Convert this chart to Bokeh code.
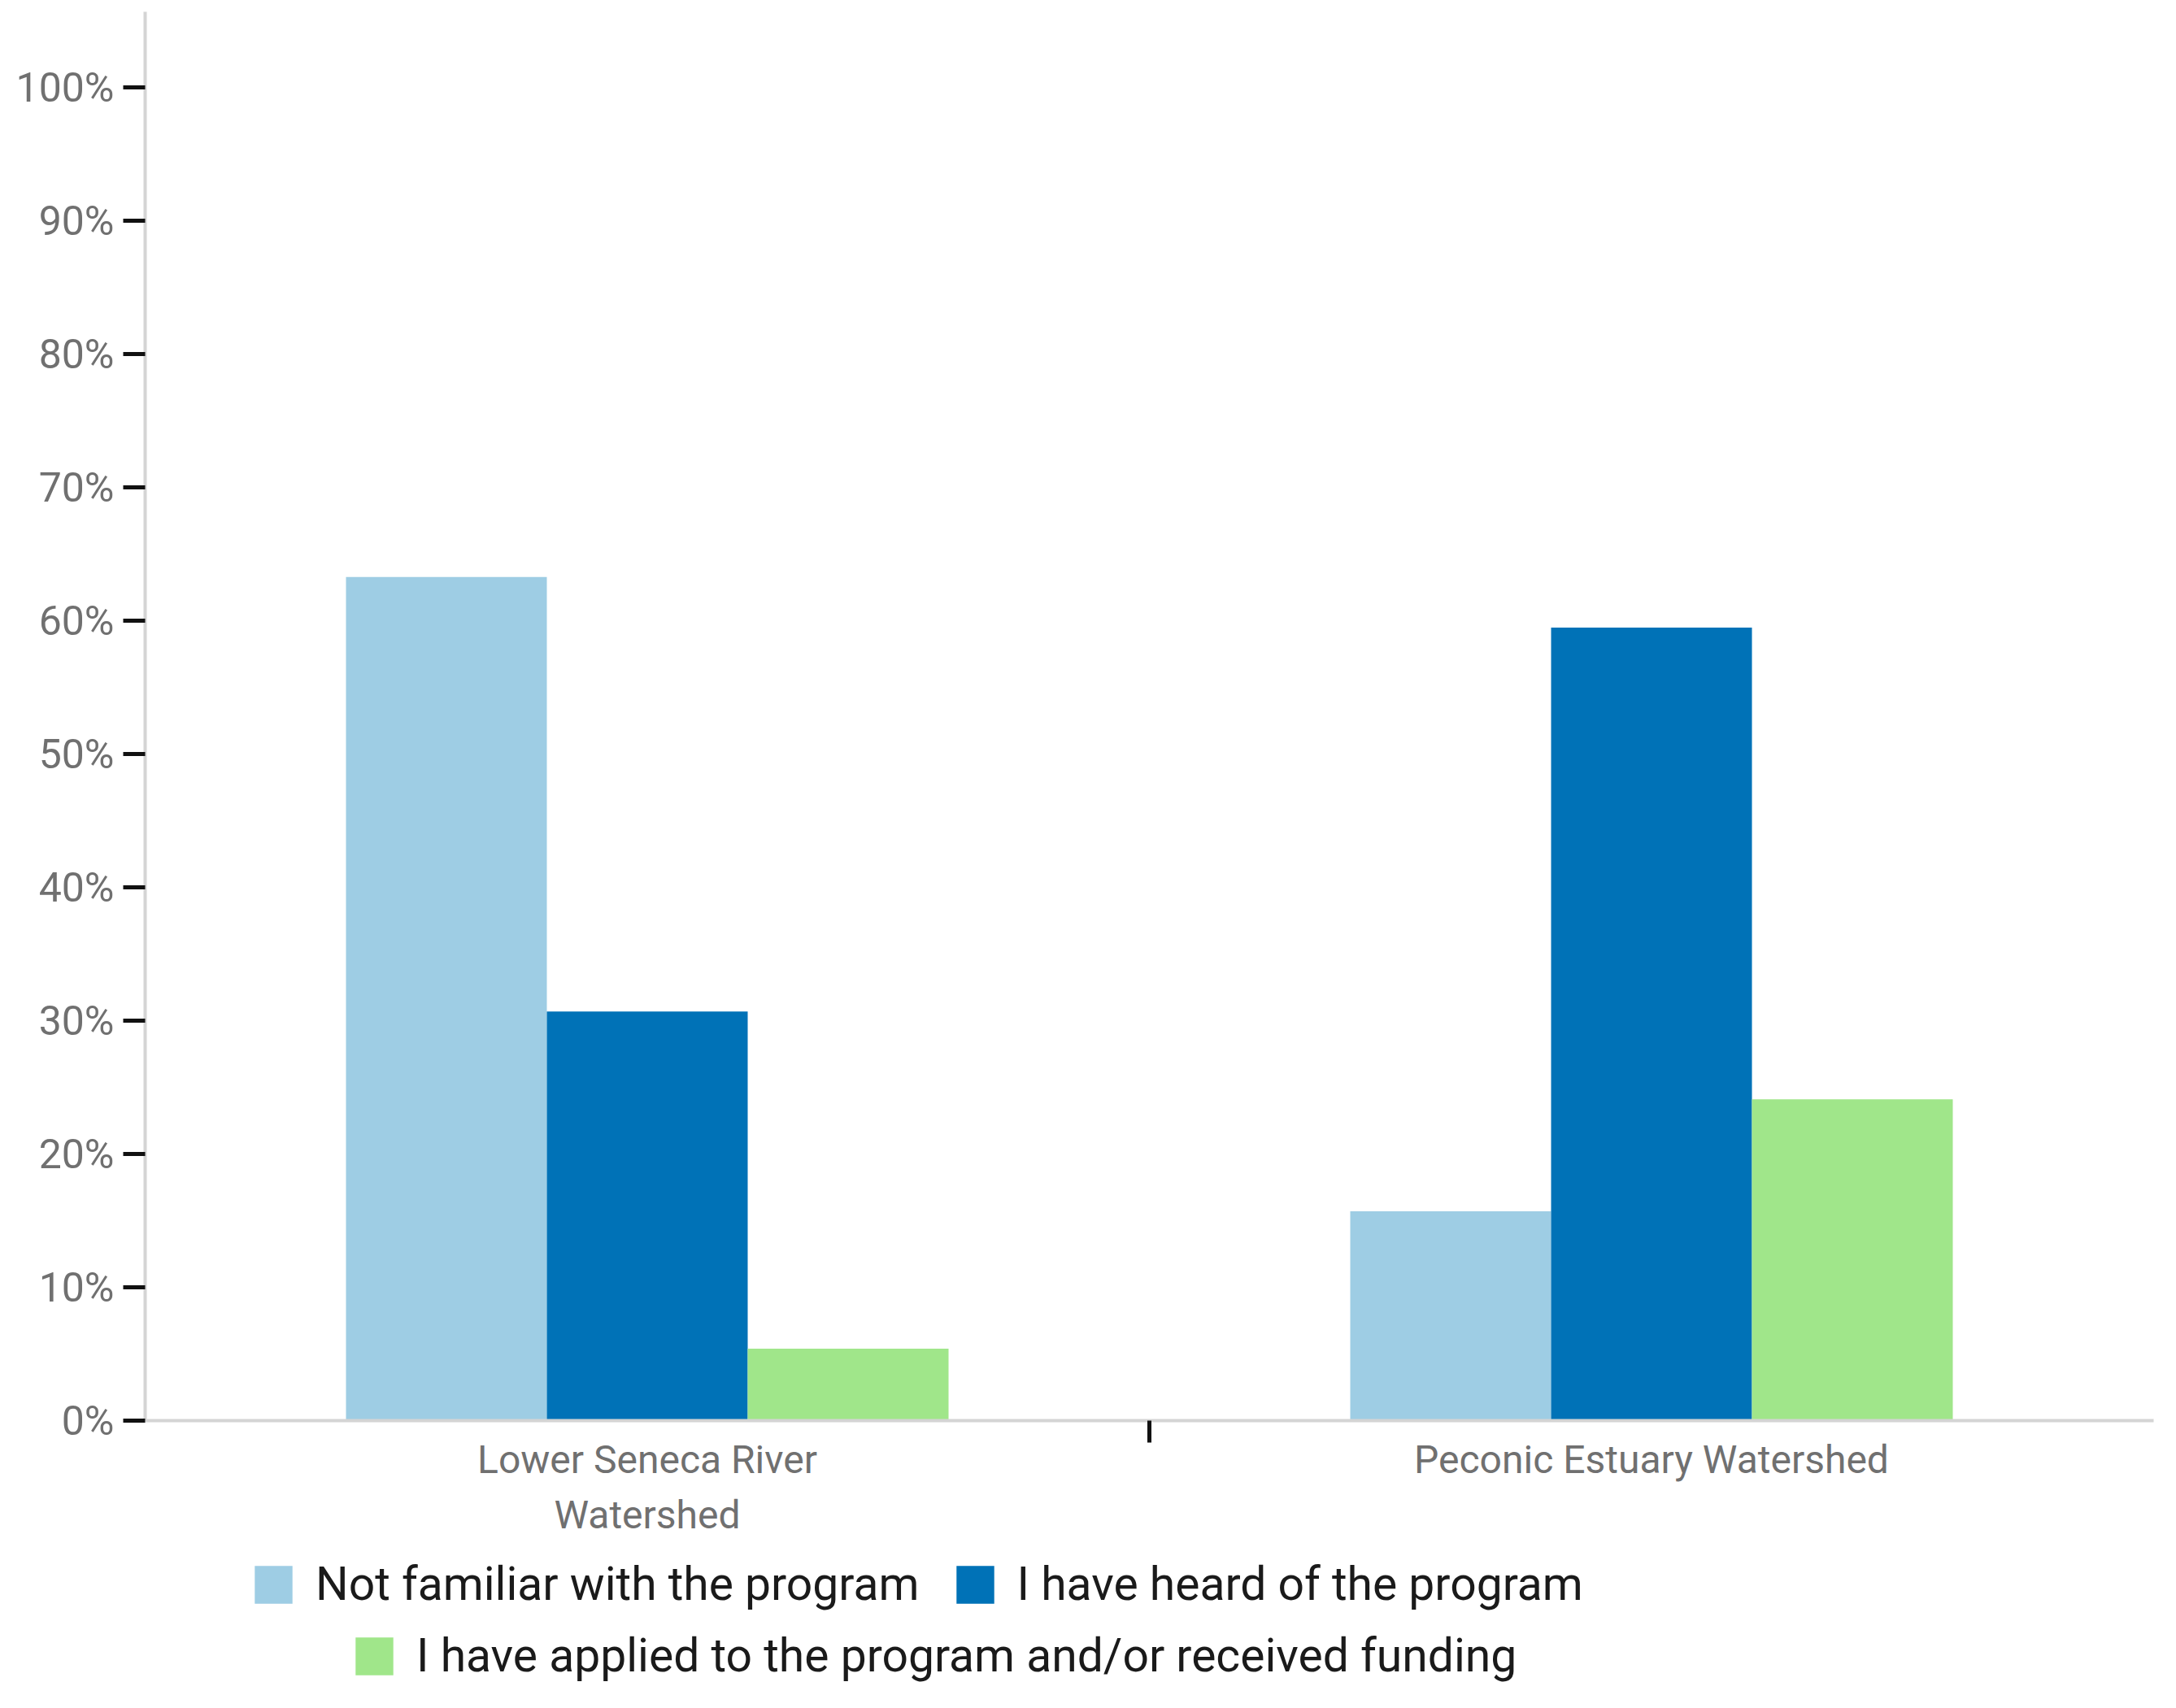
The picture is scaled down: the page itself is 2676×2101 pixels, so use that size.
from bokeh.plotting import figure
from bokeh.layouts import column
from bokeh.models import (Range1d, LinearAxis, FixedTicker, PrintfTickFormatter,
                          Legend, LegendItem, ColumnDataSource)
from bokeh.embed import file_html
from bokeh.resources import INLINE

categories = ["Lower Seneca River\nWatershed", "Peconic Estuary Watershed"]
series_names = ["Not familiar with the program",
                "I have heard of the program",
                "I have applied to the program and/or received funding"]
not_familiar = [63.3, 15.7]
heard_of = [30.7, 59.5]
applied = [5.4, 24.1]
colors = ["#9ecde4", "#0072b7", "#a0e68a"]
y_ticks = [0, 10, 20, 30, 40, 50, 60, 70, 80, 90, 100]

FONT = "Roboto"
W = 2660
H1 = 1897
H2 = 2085 - H1

p = figure(width=W, height=H1, output_backend="svg", toolbar_location=None,
           x_range=Range1d(0, len(categories)), y_range=Range1d(0, 105.7),
           x_axis_type=None, y_axis_type=None,
           min_border_left=178, min_border_right=12, min_border_top=14,
           min_border_bottom=H1 - 1747)
p.outline_line_color = None
p.xgrid.visible = False
p.ygrid.visible = False

all_series = [not_familiar, heard_of, applied]
offsets = [-0.2, 0.0, 0.2]
sources = []
for vals, off, col in zip(all_series, offsets, colors):
    src = ColumnDataSource(dict(x=[i + 0.5 + off for i in range(len(categories))], top=vals))
    sources.append(src)
    p.vbar(x="x", top="top", bottom=0, width=0.2, source=src,
           fill_color=col, line_color=None)

# y axis
yax = LinearAxis(ticker=FixedTicker(ticks=y_ticks, minor_ticks=[]),
                 formatter=PrintfTickFormatter(format="%d%%"))
yax.axis_line_color = "#d4d4d4"
yax.axis_line_width = 4
yax.major_tick_line_color = "#111111"
yax.major_tick_line_width = 5
yax.major_tick_out = 27
yax.major_tick_in = 0
yax.major_label_standoff = 11
yax.major_label_text_font = FONT
yax.major_label_text_font_size = "50px"
yax.major_label_text_color = "#707070"
p.add_layout(yax, "left")

# x axis (category labels at centers, separator minor tick between groups)
centers = [i + 0.5 for i in range(len(categories))]
separators = [float(i) for i in range(1, len(categories))]
xax = LinearAxis(ticker=FixedTicker(ticks=centers, minor_ticks=separators))
xax.major_label_overrides = {c: lab for c, lab in zip(centers, categories)}
xax.axis_line_color = "#d4d4d4"
xax.axis_line_width = 4
xax.major_tick_line_color = None
xax.major_tick_out = 0
xax.major_tick_in = 0
xax.minor_tick_line_color = "#111111"
xax.minor_tick_line_width = 5
xax.minor_tick_out = 27
xax.minor_tick_in = 0
xax.major_label_standoff = -8
xax.major_label_text_font = FONT
xax.major_label_text_font_size = "48px"
xax.major_label_text_color = "#707070"
p.add_layout(xax, "below")

# legend area (swatch renderers share the bar data but stay hidden)
pl = figure(width=W, height=H2, output_backend="svg", toolbar_location=None,
            x_range=Range1d(0, len(categories)), y_range=Range1d(0, 105.7),
            x_axis_type=None, y_axis_type=None,
            min_border_left=178, min_border_right=12, min_border_top=0, min_border_bottom=0)
pl.outline_line_color = None
pl.xgrid.visible = False
pl.ygrid.visible = False
swatches = []
for src, col in zip(sources, colors):
    r = pl.vbar(x="x", top="top", bottom=0, width=0.2, source=src,
                fill_color=col, line_color=None)
    r.visible = False
    swatches.append(r)

def make_legend(items, loc):
    lg = Legend(items=items, location=loc, orientation="horizontal")
    lg.border_line_color = None
    lg.background_fill_alpha = 0
    lg.inactive_fill_alpha = 0
    lg.padding = 0
    lg.margin = 0
    lg.spacing = 39
    lg.glyph_width = 58
    lg.glyph_height = 58
    lg.label_standoff = 23
    lg.label_text_font = FONT
    lg.label_text_font_size = "57px"
    lg.label_text_color = "#1a1a1a"
    lg.label_height = 58
    return lg

leg1 = make_legend([LegendItem(label=series_names[0], renderers=[swatches[0]]),
                    LegendItem(label=series_names[1], renderers=[swatches[1]])],
                   (129, 103))
leg2 = make_legend([LegendItem(label=series_names[2], renderers=[swatches[2]])],
                   (253, 15))
pl.add_layout(leg1, "center")
pl.add_layout(leg2, "center")

open("out.html", "w").write(file_html(column(p, pl, spacing=0), INLINE))
